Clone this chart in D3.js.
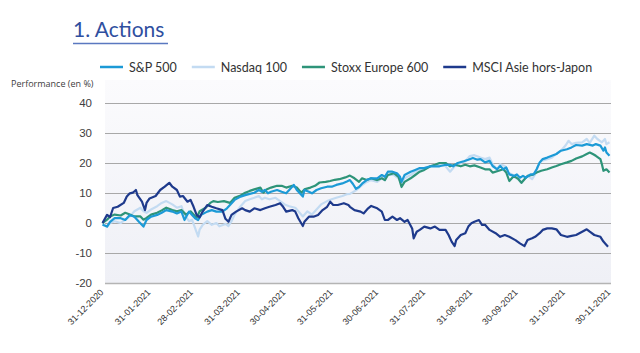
<!DOCTYPE html>
<html>
<head>
<meta charset="utf-8">
<script src="https://cdn.jsdelivr.net/npm/d3@7"></script>
<style>
  body { margin: 0; background: #fff; }
  svg { display: block; }
</style>
</head>
<body>
<div id="chart"></div>
<script>
// each point: [days since 31-12-2020, performance in %]
const startDate = "2020-12-31";
const tickDates = ["2020-12-31", "2021-01-31", "2021-02-28", "2021-03-31", "2021-04-30", "2021-05-31",
  "2021-06-30", "2021-07-31", "2021-08-31", "2021-09-30", "2021-10-31", "2021-11-30"];
const yTicks = [-20, -10, 0, 10, 20, 30, 40];
const seriesNames = ["S&P 500", "Nasdaq 100", "Stoxx Europe 600", "MSCI Asie hors-Japon"];

const sp500 = [[0,-0.6],[3,-1.2],[5,0.4],[8,1.6],[12,1.6],[15,1],[18,2.7],[21,2.1],[24,0.4],[27,-1.2],[29,1],
  [32,2.1],[36,2.7],[39,3.4],[42,4.3],[46,3.8],[49,3.2],[52,3.8],[54,1],[57,3.8],[59,2.7],[61,1.6],[63,1],
  [65,2.7],[69,3.8],[72,4.3],[75,3.8],[79,3.8],[82,4.9],[84,6],[87,7.7],[91,8.8],[94,9.3],[97,9.7],[100,10.1],
  [103,11],[105,10.4],[107,11],[109,9.9],[111,10.4],[115,11],[118,10.4],[121,9.9],[123,11],[126,12.7],[128,11],
  [130,9.9],[132,8.8],[133,11],[136,10.4],[138,9.9],[141,11],[144,11.6],[148,12.1],[151,12.1],[154,12.7],
  [158,13.2],[161,13.8],[163,14.3],[165,13],[167,11.4],[169,12],[171,13.1],[174,14.3],[177,14.9],[181,14.9],
  [184,16],[186,15.4],[188,17.1],[191,17.1],[194,16.6],[196,15.4],[197,13.7],[199,16],[203,17.1],[206,17.7],
  [209,18.3],[212,18.3],[216,18.9],[219,18.9],[222,18.9],[226,19.4],[229,19.4],[231,18.9],[234,20],[238,20.6],
  [241,21.1],[244,21.7],[247,21.1],[249,21.3],[252,20.2],[255,20.7],[257,19],[260,17.9],[262,19],[264,17.9],
  [266,18.5],[268,16.2],[271,15.7],[273,16.2],[275,15.1],[277,15.7],[279,15.1],[282,16.2],[284,16.2],[286,17.9],
  [288,20.2],[290,21.3],[293,21.8],[296,22.4],[299,23],[302,24.1],[306,24.6],[309,25.2],[312,26],[316,25.8],
  [319,26.3],[323,25.8],[325,26.3],[328,25.8],[330,24.1],[331,25.2],[332,23.5],[334,22.4]];

const nasdaq100 = [[0,0],[3,-1.3],[5,0],[8,0.6],[12,0],[15,1.1],[18,2.2],[21,3.9],[25,5.1],[27,3.9],[29,3.4],
  [32,4.5],[36,5.6],[39,6.7],[42,7.3],[46,6.2],[49,5.1],[52,5.6],[54,2.8],[57,0.6],[59,1.1],[61,-1.7],[63,-4.5],
  [64,-2.2],[66,-0.6],[69,0.6],[72,-0.6],[75,0],[77,-1.1],[81,-0.3],[83,-1],[85,0.6],[87,2.8],[91,5.6],[94,7.3],
  [97,7.9],[100,8.4],[103,9],[105,7.9],[107,8.4],[110,7.9],[114,8.4],[117,7.3],[120,6.2],[123,5.6],[127,5.1],
  [129,3.9],[132,2.2],[135,3.9],[138,2.8],[141,4.5],[144,6.2],[148,7.3],[151,7.9],[154,8.4],[158,9],[161,9.6],
  [163,9.7],[165,10.3],[167,10.9],[171,12.6],[174,13.7],[177,14.3],[181,13.7],[184,14.9],[186,14.3],[188,16],
  [192,16],[195,14.9],[197,13.1],[199,14.9],[203,16],[206,17.1],[209,17.7],[212,18.3],[216,18.9],[219,19.4],
  [222,19.4],[226,18.9],[229,17.1],[232,18.9],[236,20],[239,20.6],[242,22.3],[245,22.6],[249,21.8],[252,21.3],
  [255,21.8],[257,19.6],[260,17.9],[262,19.6],[265,19],[267,16.8],[270,16.2],[272,15.1],[274,14.6],[276,13.4],
  [278,14.6],[280,15.7],[283,14.6],[285,16.2],[287,19],[289,20.7],[293,21.3],[296,21.8],[299,23],[302,24.1],
  [305,25.8],[307,27.4],[309,26.3],[312,26.7],[316,26.9],[319,28],[321,26.7],[324,29.1],[326,28],[329,26.9],
  [331,28],[332,26.3],[334,26.9]];

const stoxx600 = [[0,0],[3,1.1],[5,2.2],[8,2.8],[12,2.5],[15,3.4],[18,2.8],[21,2.2],[25,2.2],[27,1.1],[29,1.7],
  [32,2.8],[36,3.4],[39,4.2],[42,5.1],[46,4.3],[49,3.9],[52,4.3],[55,2.8],[58,3.9],[60,2.8],[62,1.7],[64,3.9],
  [68,5.1],[71,6.7],[73,7.3],[76,7],[80,7.3],[84,6.7],[87,8.4],[91,9.2],[94,10.1],[97,10.7],[100,11.2],[104,11.8],
  [106,10.1],[108,11.2],[111,11.8],[115,12.4],[118,12.4],[121,11.8],[125,12.4],[128,11.8],[131,10.1],[133,11.2],
  [137,11.8],[140,12.4],[143,13.5],[147,13.7],[150,14],[153,14.4],[156,14.6],[160,15.2],[163,15.8],[166,14.9],
  [169,13.7],[171,14.9],[174,14.3],[177,14.9],[181,14.3],[184,14.9],[186,14.3],[188,16],[192,16.6],[195,15.4],
  [197,12],[199,13.7],[203,14.9],[206,16],[209,17.1],[212,17.7],[216,18.9],[219,19.4],[222,20],[226,20],
  [229,18.9],[232,19.4],[236,18.9],[239,19.4],[242,18.9],[245,19.2],[249,18.5],[252,17.9],[255,17.9],[257,16.8],
  [261,17.4],[264,17.9],[266,16.8],[268,14],[271,15.7],[274,14.6],[276,13.4],[278,14.6],[280,15.7],[283,16],
  [286,16.8],[289,17.4],[293,17.9],[296,18.5],[299,19],[302,19.6],[306,20.2],[309,20.7],[312,21.5],[316,22.2],
  [319,23],[321,23.5],[323,23],[325,22.4],[328,21.3],[329,19.6],[330,17.4],[332,17.9],[334,16.8]];

const msciAsia = [[0,0],[3,2.7],[5,2],[7,5],[10,5.4],[14,6.7],[16,8.8],[18,9.9],[20,10.1],[22,11],[23,9.3],
  [26,7.1],[28,4.3],[29,6.7],[31,8.2],[35,9],[38,11],[41,12.1],[44,13.4],[46,12.1],[49,11],[51,8.8],[53,9],
  [56,7.1],[58,7.7],[60,5.4],[62,2.7],[64,1.9],[66,3.8],[69,6],[72,5.4],[75,4.9],[79,4.3],[81,1.4],[83,0.4],
  [85,2.7],[88,3.8],[92,4.9],[94,4.3],[97,3.8],[100,4.9],[104,4.3],[107,4.9],[110,5.4],[114,6],[117,6.6],
  [119,5.4],[121,3.8],[125,4.3],[127,3.8],[129,1.6],[132,-1],[133,0.4],[136,2.1],[139,2.1],[142,2.7],[145,4.3],
  [148,5.4],[150,7.1],[152,6],[155,6],[159,6.6],[162,6],[163,5.4],[166,4.3],[170,3.8],[172,3.2],[175,4.9],
  [177,5.7],[181,4.9],[184,3.8],[186,1],[188,1],[191,2.1],[194,1],[196,1.6],[199,0.4],[201,1],[204,-1.8],
  [205,-5.1],[207,-2.9],[209,-2.3],[212,-1.2],[216,-1.8],[219,-1.2],[222,-2.3],[226,-2.3],[228,-4],[230,-6.2],
  [232,-7.7],[233,-5.7],[236,-4],[239,-3.4],[241,-1.2],[243,-0.1],[245,0.4],[248,1],[250,-0.6],[252,-0.6],
  [255,-2.3],[259,-3.4],[262,-4.6],[265,-4],[268,-4.6],[272,-5.7],[275,-6.8],[278,-7.7],[280,-5.7],[283,-5.1],
  [285,-4.6],[288,-3.4],[290,-2.3],[293,-1.8],[296,-1.8],[299,-2.1],[302,-4],[306,-4.6],[309,-4.3],[312,-4],
  [316,-2.9],[319,-2.1],[321,-2.9],[324,-4],[328,-4.6],[330,-6.2],[332,-7.3],[333,-7.9]];

const colors = ["#1c9ad6", "#c3dbf2", "#2e9479", "#1e3a8c"];

const W = 640, H = 353;
const plot = {left: 105, right: 611, top: 80, bottom: 283};
const parseDate = d3.timeParse("%Y-%m-%d");
const t0 = parseDate(startDate);

const svg = d3.select("#chart").append("svg")
  .attr("width", W)
  .attr("height", H)
  .style("font-family", "'Open Sans', sans-serif");

const grad = svg.append("defs").append("linearGradient")
  .attr("id", "bg").attr("x1", 0).attr("y1", 0).attr("x2", 0).attr("y2", 1);
grad.append("stop").attr("offset", "0%").attr("stop-color", "#fbfbfd");
grad.append("stop").attr("offset", "100%").attr("stop-color", "#eff0f6");

// title
svg.append("text")
  .attr("x", 73).attr("y", 37)
  .style("font-family", "Lato, sans-serif")
  .style("font-size", "21px")
  .attr("fill", "#2f4f9f")
  .text("1. Actions");
svg.append("line")
  .attr("x1", 73).attr("x2", 168).attr("y1", 43.5).attr("y2", 43.5)
  .attr("stroke", "#5a78c0").attr("stroke-width", 1.5);

const x = d3.scaleTime()
  .domain([t0, parseDate(tickDates[tickDates.length - 1])])
  .range([102.5, 609.5]);
const y = d3.scaleLinear().domain([-20, 40]).range([283, 103]);

svg.append("rect")
  .attr("x", plot.left).attr("y", plot.top)
  .attr("width", plot.right - plot.left).attr("height", plot.bottom - plot.top)
  .attr("fill", "url(#bg)");

// y axis: gridlines + labels
const yAxis = svg.append("g")
  .attr("transform", `translate(${plot.left},0)`)
  .call(d3.axisLeft(y).tickValues(yTicks).tickFormat(d => String(d))
    .tickSizeOuter(0).tickSizeInner(-(plot.right - plot.left)));
yAxis.select(".domain").remove();
yAxis.selectAll(".tick line")
  .attr("stroke", d => d === -20 ? "#b4b4b4" : "#a8a8a8")
  .attr("stroke-width", d => d === -20 ? 1.5 : 1);
yAxis.selectAll(".tick text")
  .attr("x", -13)
  .attr("fill", "#404040")
  .style("font-size", "11.5px");

svg.append("text")
  .attr("x", 11).attr("y", 87)
  .style("font-size", "9px")
  .attr("fill", "#404040")
  .text("Performance (en %)");

// x axis labels
const xAxis = svg.append("g")
  .attr("transform", `translate(0,${plot.bottom})`)
  .call(d3.axisBottom(x).tickValues(tickDates.map(parseDate))
    .tickFormat(d3.timeFormat("%d-%m-%Y")).tickSize(0));
xAxis.select(".domain").remove();
xAxis.selectAll(".tick text")
  .attr("y", 0).attr("dy", 0)
  .attr("transform", "translate(1,10) rotate(-45)")
  .style("text-anchor", "end")
  .style("font-size", "9px")
  .attr("fill", "#333");

const line = d3.line()
  .x(d => x(d3.timeDay.offset(t0, d[0])))
  .y(d => y(d[1]));

const series = [sp500, nasdaq100, stoxx600, msciAsia];
const drawOrder = [1, 2, 0, 3];
drawOrder.forEach(i => {
  svg.append("path")
    .datum(series[i])
    .attr("d", line)
    .attr("fill", "none")
    .attr("stroke", colors[i])
    .attr("stroke-width", 2.2)
    .attr("stroke-linejoin", "round");
});

// legend
let lx = 100;
seriesNames.forEach((name, i) => {
  svg.append("line")
    .attr("x1", lx).attr("x2", lx + 23)
    .attr("y1", 67).attr("y2", 67)
    .attr("stroke", colors[i]).attr("stroke-width", 2.5);
  const t = svg.append("text")
    .attr("x", lx + 29).attr("y", 71.5)
    .style("font-family", "Lato, sans-serif")
    .style("font-size", "12.5px")
    .attr("fill", "#333")
    .text(name);
  lx += 29 + t.node().getComputedTextLength() + 15;
});
</script>
</body>
</html>
